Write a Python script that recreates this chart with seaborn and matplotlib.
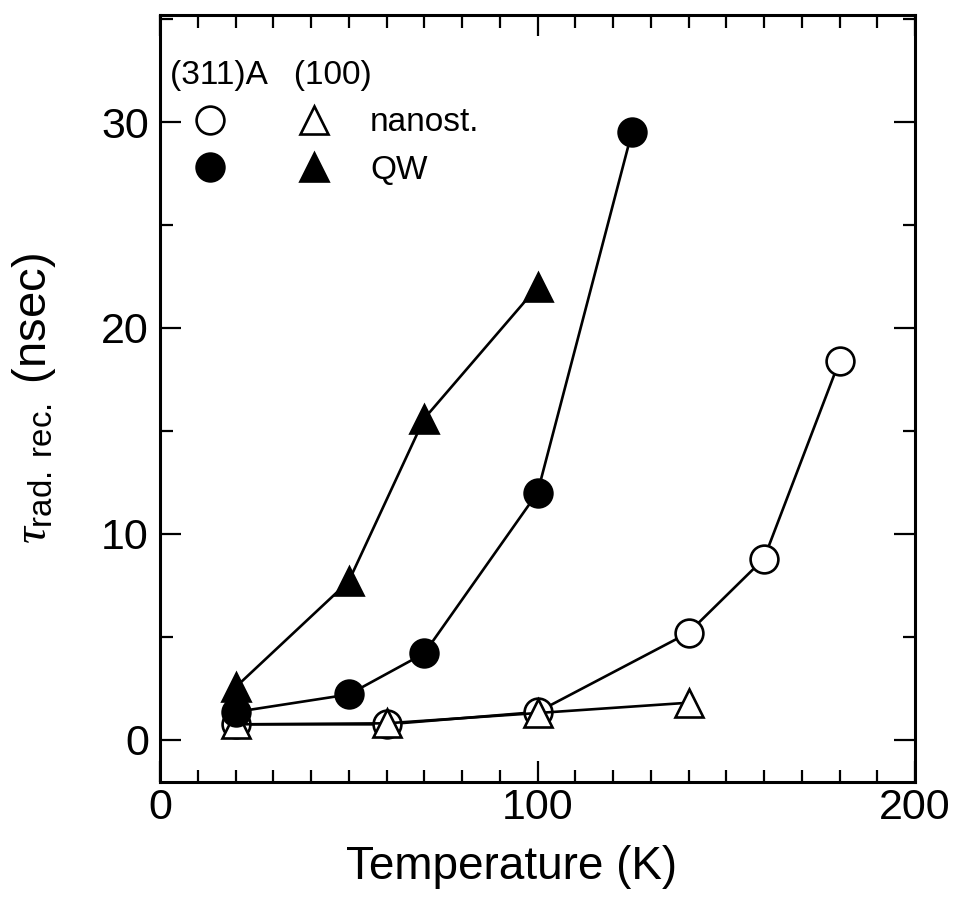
import matplotlib
matplotlib.use("Agg")
import matplotlib.pyplot as plt
import seaborn as sns
import pandas as pd
from matplotlib.lines import Line2D
from matplotlib.legend_handler import HandlerTuple
from matplotlib.ticker import MultipleLocator

# ---- data ----
t_311_nano = [20, 60, 100, 140, 160, 180]
tau_311_nano = [0.75, 0.75, 1.35, 5.2, 8.8, 18.4]

t_100_nano = [20, 60, 100, 140]
tau_100_nano = [0.75, 0.8, 1.3, 1.8]

t_311_qw = [20, 50, 70, 100, 125]
tau_311_qw = [1.35, 2.2, 4.2, 12.0, 29.5]

t_100_qw = [20, 50, 70, 100]
tau_100_qw = [2.55, 7.7, 15.6, 22.0]

legend_title = "(311)A   (100)"
legend_labels = ["nanost.", "QW"]
xlabel = "Temperature (K)"
ylabel = r"$\tau_{\mathrm{rad.\ rec.}}$ (nsec)"

sns.set_theme(style="ticks")
plt.rcParams["font.family"] = ["Liberation Sans", "DejaVu Sans"]
plt.rcParams["mathtext.fontset"] = "custom"
plt.rcParams["mathtext.rm"] = "Liberation Sans"
plt.rcParams["mathtext.it"] = "Liberation Serif:italic"
plt.rcParams["text.color"] = "black"
plt.rcParams["axes.labelcolor"] = "black"
plt.rcParams["xtick.color"] = "black"
plt.rcParams["ytick.color"] = "black"
plt.rcParams["legend.labelcolor"] = "black"

fig = plt.figure(figsize=(9.58, 9.02), dpi=100)
ax = fig.add_axes([160 / 958, 1 - 782 / 902, (915 - 160) / 958, (782 - 15) / 902])

ms = 20
mew = 1.9
lw = 1.9

series = [
    (t_311_nano, tau_311_nano, "o", "white"),
    (t_100_nano, tau_100_nano, "^", "white"),
    (t_311_qw, tau_311_qw, "o", "black"),
    (t_100_qw, tau_100_qw, "^", "black"),
]
for i, (xs, ys, mk, fc) in enumerate(series):
    df = pd.DataFrame({"T": xs, "tau": ys})
    sns.lineplot(data=df, x="T", y="tau", ax=ax, color="black", linewidth=lw,
                 marker=mk, markersize=ms, markerfacecolor=fc,
                 markeredgecolor="black", markeredgewidth=mew, zorder=3 + i)

ax.set_xlim(0, 200)
ax.set_ylim(-2.05, 35.2)
ax.xaxis.set_major_locator(MultipleLocator(100))
ax.xaxis.set_minor_locator(MultipleLocator(10))
ax.yaxis.set_major_locator(MultipleLocator(10))
ax.yaxis.set_minor_locator(MultipleLocator(5))
ax.tick_params(which="both", direction="in", top=True, right=True,
               color="black", labelcolor="black", labelsize=31)
ax.tick_params(axis="x", pad=4)
ax.tick_params(axis="y", pad=8)
ax.tick_params(which="major", length=15, width=1.6)
ax.tick_params(which="minor", length=9, width=1.6)
for s in ax.spines.values():
    s.set_linewidth(2.2)
    s.set_color("black")

ax.set_xlabel(xlabel, fontsize=33, color="black")
ax.xaxis.set_label_coords(0.466, -0.082)
ax.set_ylabel(ylabel, fontsize=34, color="black")
ax.yaxis.set_label_coords(-0.135, 0.5)

# legend
h_open = (Line2D([], [], ls="none", marker="o", ms=ms, mfc="white", mec="black", mew=mew),
          Line2D([], [], ls="none", marker="^", ms=ms, mfc="white", mec="black", mew=mew))
h_fill = (Line2D([], [], ls="none", marker="o", ms=ms, mfc="black", mec="black", mew=mew),
          Line2D([], [], ls="none", marker="^", ms=ms, mfc="black", mec="black", mew=mew))
leg = ax.legend([h_open, h_fill], legend_labels,
                handler_map={tuple: HandlerTuple(ndivide=None, pad=0.72)},
                title=legend_title, title_fontsize=24, fontsize=24,
                loc="upper left", bbox_to_anchor=(0.0, 0.955),
                frameon=False, handlelength=5.5, handletextpad=0.5,
                labelspacing=0.5, borderaxespad=0.0, borderpad=0.3,
                alignment="left")
leg.get_title().set_color("black")

fig.savefig("out.png", dpi=100)
